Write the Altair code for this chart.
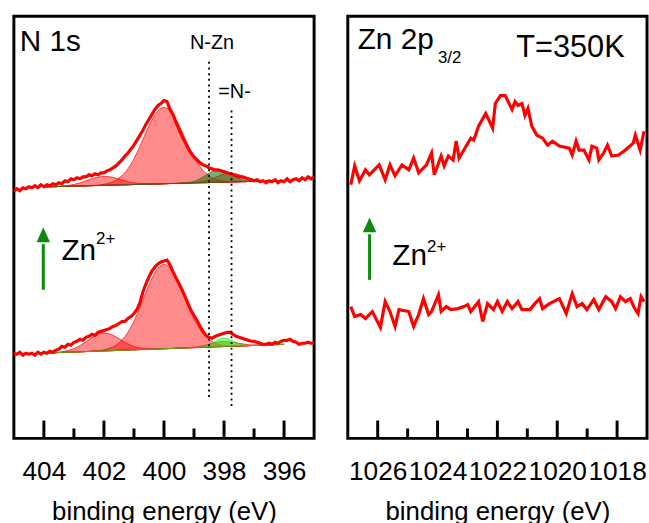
import altair as alt
import pandas as pd
import numpy as np

# ---------------- data ----------------
# N 1s raw spectra, energy grid 405.0 -> 395.0 eV (0.1 eV steps)
n1s_energy = [round(405.0 - 0.1 * i, 1) for i in range(101)]
n1s_upper = [249, 252, 250, 253, 252, 254, 253, 255, 253, 256,
             254, 256, 255, 257, 256, 258, 257, 260, 259, 262,
             261, 263, 262, 264, 264, 266, 265, 267, 266, 268,
             268, 270, 271, 273, 275, 278, 281, 285, 288, 292,
             296, 301, 306, 311, 317, 322, 327, 332, 336, 338,
             341, 340, 332, 327, 319, 312, 305, 299, 293, 288,
             284, 281, 278, 276, 275, 273, 272, 271, 271, 270,
             269, 268, 267, 266, 265, 264, 264, 263, 262, 261,
             260, 261, 259, 260, 258, 260, 259, 261, 258, 260,
             259, 262, 259, 261, 262, 260, 263, 261, 264, 262, 264]
n1s_lower = [86, 85, 87, 84, 86, 85, 86, 84, 87, 85,
             87, 86, 88, 87, 89, 90, 93, 92, 95, 94,
             97, 98, 100, 99, 102, 103, 105, 104, 107, 108,
             109, 110, 111, 113, 114, 116, 118, 118, 121, 123,
             126, 130, 137, 148, 156, 163, 169, 173, 176, 178,
             179, 180, 175, 168, 162, 156, 150, 143, 136, 129,
             124, 119, 113, 108, 104, 102, 101, 103, 104, 105,
             106, 107, 107, 105, 103, 102, 101, 100, 99, 98,
             98, 97, 96, 95, 95, 96, 95, 97, 96, 98,
             99, 99, 100, 98, 97, 95, 96, 96, 97, 96, 96]

# fitted components, energy grid 404.0 -> 396.0 eV (0.2 eV steps)
fit_energy = [round(404.0 - 0.2 * i, 1) for i in range(41)]
upper_bg = [253.8, 254.0, 254.1, 254.3, 254.4, 254.6, 254.8, 254.9, 255.1, 255.2,
            255.4, 255.6, 255.7, 255.9, 256.0, 256.2, 256.4, 256.5, 256.7, 256.8,
            257.0, 257.2, 257.3, 257.5, 257.6, 257.8, 258.0, 258.1, 258.3, 258.4,
            258.6, 258.8, 258.9, 259.1, 259.2, 259.4, 259.6, 259.7, 259.9, 260.0, 260.2]
upper_main = [0, 0, 0, 0, 0, 0, 0, 0, 0, 0.4,
              1.0, 2.3, 4.8, 9.3, 16.2, 26.1, 38.5, 52.2, 64.8, 73.7,
              77, 73.7, 64.8, 52.2, 38.5, 26.1, 16.2, 9.3, 4.8, 2.3,
              1.0, 0.4, 0, 0, 0, 0, 0, 0, 0, 0, 0]
upper_shoulder = [0, 0, 0, 0.4, 0.8, 1.7, 3.1, 5.0, 6.9, 8.4,
                  9, 8.4, 6.9, 5.0, 3.1, 1.7, 0.8, 0.4, 0, 0,
                  0, 0, 0, 0, 0, 0, 0, 0, 0, 0,
                  0, 0, 0, 0, 0, 0, 0, 0, 0, 0, 0]
upper_nzn = [0, 0, 0, 0, 0, 0, 0, 0, 0, 0,
             0, 0, 0, 0, 0, 0, 0, 0, 0, 0,
             0, 0, 0, 0, 0.6, 1.8, 4.2, 7.8, 11.2, 12.6,
             11.6, 8.8, 5.0, 2.0, 0.6, 0, 0, 0, 0, 0, 0]
upper_small = [0, 0, 0, 0, 0, 0, 0, 0, 0, 0,
               0, 0, 0, 0, 0, 0, 0, 0, 0, 0,
               0, 0, 0, 0, 0, 0.3, 0.8, 1.9, 3.7, 6.1,
               8.2, 9, 8.2, 6.1, 3.7, 1.9, 0.8, 0.3, 0, 0, 0]
lower_bg = [86.1, 86.3, 86.5, 86.8, 87.0, 87.2, 87.4, 87.6, 87.9, 88.1,
            88.3, 88.5, 88.7, 89.0, 89.2, 89.4, 89.6, 89.8, 90.1, 90.3,
            90.5, 90.7, 90.9, 91.2, 91.4, 91.6, 91.8, 92.0, 92.3, 92.5,
            92.7, 92.9, 93.1, 93.4, 93.6, 93.8, 94.0, 94.2, 94.5, 94.7, 94.9]
lower_main = [0, 0, 0, 0, 0, 0, 0, 0, 0, 0.4,
              1.1, 2.6, 5.3, 10.2, 17.9, 28.8, 42.6, 57.6, 71.5, 81.4,
              85, 81.4, 71.5, 57.6, 42.6, 28.8, 17.9, 10.2, 5.3, 2.6,
              1.1, 0.4, 0, 0, 0, 0, 0, 0, 0, 0, 0]
lower_shoulder = [0, 0, 0, 0.7, 1.7, 3.4, 6.2, 9.9, 13.8, 16.8,
                  18, 16.8, 13.8, 9.9, 6.2, 3.4, 1.7, 0.7, 0, 0,
                  0, 0, 0, 0, 0, 0, 0, 0, 0, 0,
                  0, 0, 0, 0, 0, 0, 0, 0, 0, 0, 0]
lower_small = [0, 0, 0, 0, 0, 0, 0, 0, 0, 0,
               0, 0, 0, 0, 0, 0, 0, 0, 0, 0,
               0, 0, 0, 0, 0, 0.4, 1.0, 2.1, 3.4, 4.5,
               5, 4.5, 3.4, 2.1, 1.0, 0.4, 0, 0, 0, 0, 0]
lower_nzn = [0, 0, 0, 0, 0, 0, 0, 0, 0, 0,
             0, 0, 0, 0, 0, 0, 0, 0, 0, 0,
             0, 0, 0, 0, 0, 0, 0.3, 1.4, 3.8, 7.0,
             8.5, 7.0, 3.8, 1.4, 0.3, 0, 0, 0, 0, 0, 0]

# Zn 2p3/2 raw spectra
zn_upper_E = [1026.90, 1026.77, 1026.61, 1026.41, 1026.28, 1025.95, 1025.75, 1025.59, 1025.42, 1025.19,
              1024.96, 1024.80, 1024.63, 1024.37, 1024.20, 1024.11, 1023.88, 1023.78, 1023.64, 1023.48,
              1023.38, 1023.28, 1023.12, 1022.89, 1022.79, 1022.63, 1022.39, 1022.16, 1022.07, 1021.90,
              1021.74, 1021.51, 1021.41, 1021.31, 1021.18, 1021.08, 1020.98, 1020.85, 1020.68, 1020.49,
              1020.32, 1020.16, 1019.93, 1019.60, 1019.50, 1019.37, 1019.27, 1019.11, 1018.94, 1018.84,
              1018.68, 1018.61, 1018.45, 1018.32, 1018.18, 1017.95, 1017.72, 1017.46, 1017.39, 1017.23, 1017.10]
zn_upper_I = [256, 275, 260, 271, 266, 276, 261, 276, 265, 276,
              271, 283, 268, 276, 288, 266, 285, 275, 285, 281,
              300, 283, 291, 303, 301, 315, 328, 313, 338, 346,
              346, 332, 340, 336, 338, 326, 333, 315, 306, 303,
              296, 300, 295, 293, 286, 300, 291, 291, 281, 295,
              293, 281, 288, 296, 285, 286, 291, 298, 306, 291, 310]
zn_lower_E = [1026.90, 1026.77, 1026.57, 1026.41, 1026.18, 1025.91, 1025.75, 1025.59, 1025.42, 1025.29,
              1024.96, 1024.80, 1024.63, 1024.47, 1024.30, 1024.20, 1023.97, 1023.88, 1023.71, 1023.55,
              1023.32, 1023.12, 1022.99, 1022.89, 1022.63, 1022.49, 1022.33, 1022.13, 1022.00, 1021.84,
              1021.67, 1021.51, 1021.31, 1021.18, 1020.91, 1020.75, 1020.59, 1020.49, 1020.26, 1019.93,
              1019.70, 1019.50, 1019.34, 1019.17, 1019.01, 1018.78, 1018.61, 1018.38, 1018.18, 1018.05,
              1017.89, 1017.72, 1017.56, 1017.43, 1017.30, 1017.20, 1017.10]
zn_lower_I = [133, 123, 125, 121, 128, 112, 138, 128, 113, 130,
              128, 113, 125, 141, 125, 128, 145, 128, 133, 130,
              131, 133, 135, 128, 138, 118, 136, 130, 138, 128,
              138, 131, 138, 130, 130, 136, 141, 131, 136, 141,
              126, 146, 133, 136, 130, 140, 130, 143, 138, 131,
              143, 138, 141, 132, 126, 143, 138]

n1s_major = [404, 402, 400, 398, 396]
n1s_minor = [403, 401, 399, 397]
zn_major = [1026, 1024, 1022, 1020, 1018]
zn_minor = [1025, 1023, 1021, 1019]
marker_E = [398.5, 397.75]
marker_text = ["N-Zn", "=N-"]

title_n1s = "N 1s"
title_zn = "Zn 2p"
title_zn_sub = "3/2"
temp_text = "T=350K"
ion_text = "Zn"
ion_sup = "2+"
x_title = "binding energy (eV)"

# ---------------- tables ----------------
raw_n1s = pd.concat([
    pd.DataFrame({"E": n1s_energy, "I": n1s_upper, "s": "upper"}),
    pd.DataFrame({"E": n1s_energy, "I": n1s_lower, "s": "lower"}),
])
raw_zn = pd.concat([
    pd.DataFrame({"E": zn_upper_E, "I": zn_upper_I, "s": "upper"}),
    pd.DataFrame({"E": zn_lower_E, "I": zn_lower_I, "s": "lower"}),
])

def comp(name, kind, bg, vals):
    bg = np.array(bg, dtype=float)
    return pd.DataFrame({"E": fit_energy, "lo": bg, "hi": bg + np.array(vals, dtype=float),
                         "c": name, "kind": kind})

comps = pd.concat([
    comp("u_sh", "red", upper_bg, upper_shoulder),
    comp("u_main", "red", upper_bg, upper_main),
    comp("u_g", "dgreen", upper_bg, upper_nzn),
    comp("u_s", "red", upper_bg, upper_small),
    comp("l_sh", "red", lower_bg, lower_shoulder),
    comp("l_main", "red", lower_bg, lower_main),
    comp("l_g", "lgreen", lower_bg, lower_nzn),
    comp("l_s", "red", lower_bg, lower_small),
])
markers = pd.DataFrame({"E": marker_E, "label": marker_text})
one = pd.DataFrame({"k": [0]})

W, H = 303, 426
FONT = "Liberation Sans"
GREEN = "#0a8a0a"

def xenc(domain, major):
    return alt.X("E:Q", scale=alt.Scale(domain=domain, nice=False, zero=False),
                 axis=alt.Axis(values=major, format="d", title=x_title))

yscale = alt.Scale(domain=[0, H], nice=False, zero=False)
yenc = alt.Y("I:Q", scale=yscale, axis=None)


def tick_layers(domain, major, minor):
    maj = alt.Chart(pd.DataFrame({"E": major})).mark_rule(color="black", strokeWidth=3).encode(
        x=xenc(domain, major), y=alt.value(H), y2=alt.value(H - 18))
    mnr = alt.Chart(pd.DataFrame({"E": minor})).mark_rule(color="black", strokeWidth=3).encode(
        x=xenc(domain, major), y=alt.value(H), y2=alt.value(H - 10))
    return [maj, mnr]


def text(t, x, y, size, align="left"):
    return alt.Chart(one).mark_text(text=t, font=FONT, fontSize=size, align=align,
                                    baseline="alphabetic", color="black").encode(
        x=alt.value(x), y=alt.value(y))


def arrow(x, ybot, ybase):
    shaft = alt.Chart(one).mark_rule(color=GREEN, strokeWidth=3).encode(
        x=alt.value(x), y=alt.value(ybot), y2=alt.value(ybase + 2))
    head = alt.Chart(one).mark_point(shape="M0,-1L0.45,0L-0.45,0Z", size=900, filled=True,
                                     color=GREEN, opacity=1).encode(
        x=alt.value(x), y=alt.value(ybase))
    return [shaft, head]


# ---------------- left panel ----------------
d1 = [405, 395]
area_style = dict(interpolate="monotone", clip=True, strokeWidth=1)
red_areas = alt.Chart(comps).transform_filter(alt.datum.kind == "red").mark_area(
    color="#ff0000", fillOpacity=0.45, stroke="#ff0000", strokeOpacity=0.7, **area_style).encode(
    x=xenc(d1, n1s_major), y=alt.Y("hi:Q", scale=yscale, axis=None), y2="lo:Q", detail="c:N")
dg_areas = alt.Chart(comps).transform_filter(alt.datum.kind == "dgreen").mark_area(
    color="#1a7a1a", fillOpacity=0.6, stroke="#1a7a1a", strokeOpacity=0.5, **area_style).encode(
    x=xenc(d1, n1s_major), y=alt.Y("hi:Q", scale=yscale, axis=None), y2="lo:Q", detail="c:N")
lg_areas = alt.Chart(comps).transform_filter(alt.datum.kind == "lgreen").mark_area(
    color="#22ff22", fillOpacity=0.6, stroke="#22dd22", strokeOpacity=0.5, **area_style).encode(
    x=xenc(d1, n1s_major), y=alt.Y("hi:Q", scale=yscale, axis=None), y2="lo:Q", detail="c:N")
raw1 = alt.Chart(raw_n1s).mark_line(color="#ff0000", strokeWidth=3.2, clip=True).encode(
    x=xenc(d1, n1s_major), y=yenc, detail="s:N")
mk1 = alt.Chart(markers).transform_filter(alt.datum.label == "N-Zn").mark_rule(
    color="black", strokeWidth=1.8, strokeDash=[2, 3.7]).encode(
    x=xenc(d1, n1s_major), y=alt.value(46), y2=alt.value(385))
mk2 = alt.Chart(markers).transform_filter(alt.datum.label == "=N-").mark_rule(
    color="black", strokeWidth=1.8, strokeDash=[2, 3.7]).encode(
    x=xenc(d1, n1s_major), y=alt.value(95), y2=alt.value(395))
mt1 = alt.Chart(markers).transform_filter(alt.datum.label == "N-Zn").mark_text(
    font=FONT, fontSize=20, align="center", baseline="alphabetic", dx=3, color="black").encode(
    x=xenc(d1, n1s_major), y=alt.value(33), text="label:N")
mt2 = alt.Chart(markers).transform_filter(alt.datum.label == "=N-").mark_text(
    font=FONT, fontSize=20, align="center", baseline="alphabetic", dx=3, color="black").encode(
    x=xenc(d1, n1s_major), y=alt.value(82), text="label:N")

left = alt.layer(
    red_areas, dg_areas, lg_areas, raw1, mk1, mk2, mt1, mt2,
    *tick_layers(d1, n1s_major, n1s_minor),
    text(title_n1s, 6, 35, 30),
    *arrow(29.7, 276, 228),
    text(ion_text, 48, 246, 30),
    text(ion_sup, 83, 230, 17),
).properties(width=W, height=H)

# ---------------- right panel ----------------
d2 = [1027, 1017]
raw2 = alt.Chart(raw_zn).mark_line(color="#ff0000", strokeWidth=3.2, clip=True).encode(
    x=xenc(d2, zn_major), y=yenc, detail="s:N")
right = alt.layer(
    raw2,
    *tick_layers(d2, zn_major, zn_minor),
    text(title_zn, 10, 33, 30),
    text(title_zn_sub, 91, 47, 17),
    text(temp_text, 170, 41, 31),
    *arrow(22, 266, 218),
    text(ion_text, 45, 251, 30),
    text(ion_sup, 80, 238, 17),
).properties(width=302, height=H)

chart = alt.hconcat(left, right, spacing=30).properties(
    padding={"left": 12, "top": 12, "right": 0, "bottom": 0}
).configure_view(stroke="black", strokeWidth=3).configure_axis(
    labelFont=FONT, labelFontSize=26.5, labelColor="black", titleFont=FONT, titleFontSize=26,
    titleFontWeight="normal", titleColor="black", ticks=False, domain=False, grid=False,
    labelPadding=20, titlePadding=14, labelOverlap=False, labelFlush=False, labelBound=False
)

chart.save("out.html", embed_options={"renderer": "svg", "actions": False})
